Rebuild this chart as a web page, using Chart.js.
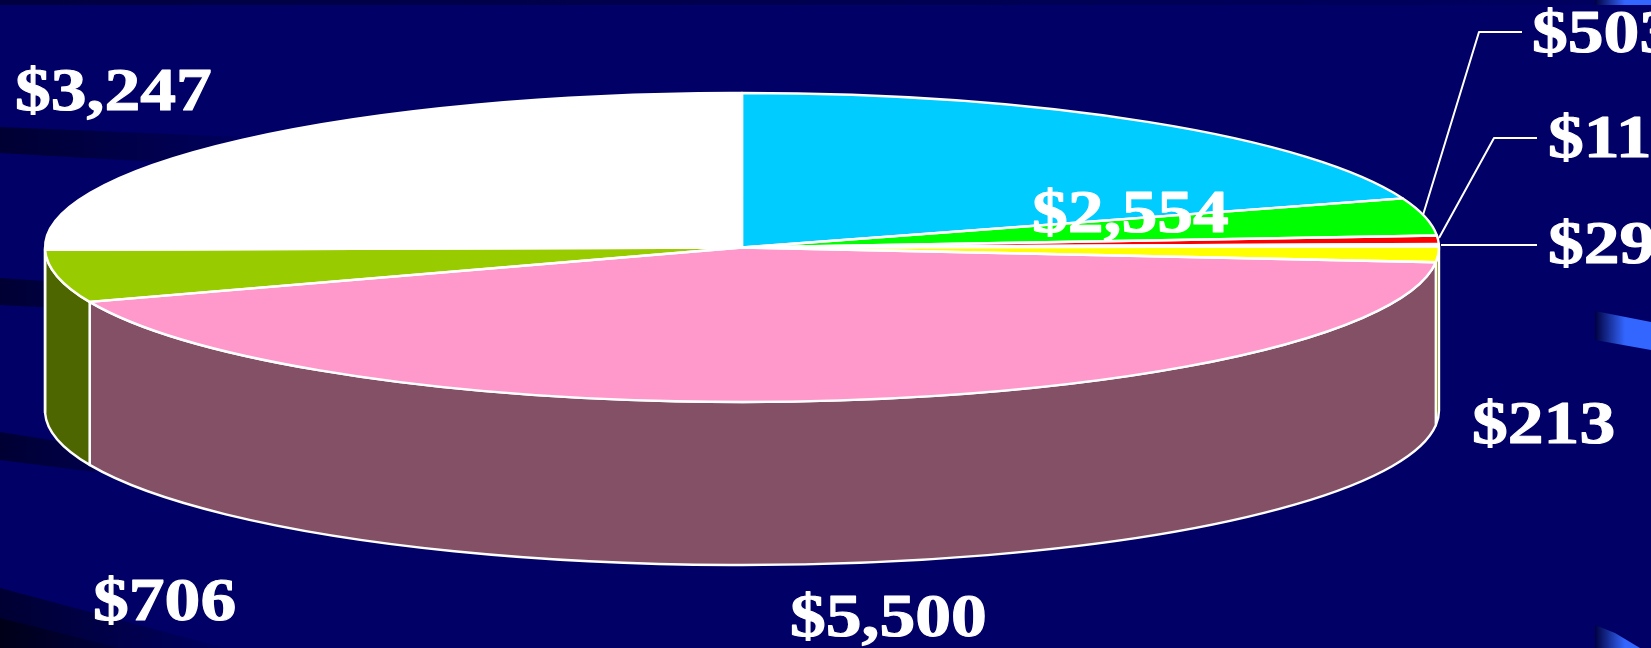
<!DOCTYPE html>
<html>
<head>
<meta charset="utf-8">
<style>html,body{margin:0;padding:0;background:#000066;overflow:hidden}canvas{display:block}</style>
<script src="https://cdn.jsdelivr.net/npm/chart.js@4"></script>
</head>
<body>
<canvas id="c" width="1651" height="648"></canvas>
<script>
const categories = ["A","B","C","D","E","F","G","H"];
const amounts = [2554, 503, 113, 29, 213, 5500, 706, 3247];
const topColors = ["#00CCFF","#00FF00","#FF0000","#FFFFFF","#FFFF00","#FF99CC","#99CC00","#FFFFFF"];
const wallColors = ["#006680","#008000","#800000","#808080","#8F8F00","#835066","#4D6600","#808080"];
const labelAnchors = [[1032,232],[1532,52],[1548,157],[1548,263],[1472,443],[790,636],[93,620],[15,110]];
const leaders = [
  [[1423,215],[1479,32],[1522,32]],
  [[1439,238],[1494,138],[1537,138]],
  [[1441,245],[1537,245]]
];
const RADIUS = 697, FLAT = 154.5 / 697, DEPTH = 163;

function band(ctx, pts, from, to, x0, x1) {
  const g = ctx.createLinearGradient(x0, 0, x1, 0);
  g.addColorStop(0, from); g.addColorStop(1, to);
  ctx.fillStyle = g;
  ctx.beginPath();
  pts.forEach((p, i) => i ? ctx.lineTo(p[0], p[1]) : ctx.moveTo(p[0], p[1]));
  ctx.closePath(); ctx.fill();
}
const backdrop = {
  id: "backdrop",
  beforeDraw(chart) {
    const ctx = chart.ctx;
    ctx.save();
    ctx.fillStyle = "#000066";
    ctx.fillRect(0, 0, 1651, 648);
    band(ctx, [[0,0],[1651,0],[1651,5],[0,5]], "#000040", "#000060", 0, 1651);
    band(ctx, [[1595,0],[1651,0],[1651,5],[1595,5]], "#000040", "#3366FF", 1595, 1625);
    band(ctx, [[0,127],[240,137],[160,162],[0,153]], "#000033", "#000060", 0, 260);
    band(ctx, [[0,278],[60,282],[60,308],[0,305]], "#000033", "#000050", 0, 120);
    band(ctx, [[0,432],[95,447],[95,472],[0,460]], "#000033", "#000055", 0, 140);
    band(ctx, [[0,588],[225,648],[0,648]], "#000033", "#000060", 0, 225);
    band(ctx, [[0,618],[120,648],[0,648]], "#000018", "#000040", 0, 120);
    band(ctx, [[1595,311],[1651,322],[1651,350],[1595,340]], "#000040", "#3366FF", 1595, 1625);
    band(ctx, [[1595,625],[1615,633],[1640,648],[1595,648]], "#000040", "#3366FF", 1595, 1625);
    ctx.restore();
  },
  beforeDatasetsDraw(chart) {
    const ctx = chart.ctx, arcs = chart.getDatasetMeta(0).data;
    ctx.save();
    ctx.strokeStyle = "#FFFFFF";
    ctx.lineWidth = 2.4;
    ctx.lineJoin = "round";
    arcs.forEach((el, i) => {
      const p = el.getProps(["x","y","startAngle","endAngle","outerRadius"], true);
      const a = Math.max(p.startAngle, 0), b = Math.min(p.endAngle, Math.PI);
      if (b <= a) return;
      const ry = p.outerRadius * FLAT;
      ctx.beginPath();
      ctx.ellipse(p.x, p.y, p.outerRadius, ry, 0, a, b);
      ctx.ellipse(p.x, p.y + DEPTH, p.outerRadius, ry, 0, b, a, true);
      ctx.closePath();
      ctx.fillStyle = wallColors[i];
      ctx.fill();
      ctx.stroke();
    });
    ctx.restore();
    const c = arcs[0].getProps(["x","y"], true);
    ctx.save();
    ctx.translate(c.x, c.y);
    ctx.scale(1, FLAT);
    ctx.translate(-c.x, -c.y);
  },
  afterDatasetsDraw(chart) {
    const ctx = chart.ctx, arcs = chart.getDatasetMeta(0).data;
    ctx.restore();
    ctx.save();
    ctx.strokeStyle = "#FFFFFF";
    ctx.lineWidth = 2.4;
    ctx.lineJoin = "round";
    arcs.forEach(el => {
      const p = el.getProps(["x","y","startAngle","endAngle","outerRadius"], true);
      ctx.beginPath();
      ctx.moveTo(p.x, p.y);
      ctx.ellipse(p.x, p.y, p.outerRadius, p.outerRadius * FLAT, 0, p.startAngle, p.endAngle);
      ctx.closePath();
      ctx.stroke();
    });
    ctx.lineWidth = 2;
    leaders.forEach(line => {
      ctx.beginPath();
      line.forEach((q, i) => i ? ctx.lineTo(q[0], q[1]) : ctx.moveTo(q[0], q[1]));
      ctx.stroke();
    });
    ctx.font = "bold 62px 'Liberation Serif'";
    ctx.fillStyle = "#FFFFFF";
    ctx.strokeStyle = "#FFFFFF";
    ctx.lineWidth = 1.1;
    ctx.textAlign = "left";
    ctx.textBaseline = "alphabetic";
    amounts.forEach((v, i) => {
      const [x, y] = labelAnchors[i];
      const s = "$" + v.toLocaleString("en-US");
      ctx.save();
      ctx.translate(x, y);
      ctx.scale(1.155, 1);
      ctx.fillText(s, 0, 0);
      ctx.strokeText(s, 0, 0);
      ctx.restore();
    });
    ctx.restore();
  }
};

new Chart(document.getElementById("c"), {
  type: "pie",
  data: {
    labels: categories,
    datasets: [{
      data: amounts,
      backgroundColor: topColors,
      borderWidth: 0,
      radius: RADIUS,
      clip: false
    }]
  },
  options: {
    responsive: false,
    animation: false,
    events: [],
    layout: { padding: { left: 0, top: 0, right: 167, bottom: 153 } },
    plugins: { legend: { display: false }, tooltip: { enabled: false } }
  },
  plugins: [backdrop]
});
</script>
</body>
</html>
